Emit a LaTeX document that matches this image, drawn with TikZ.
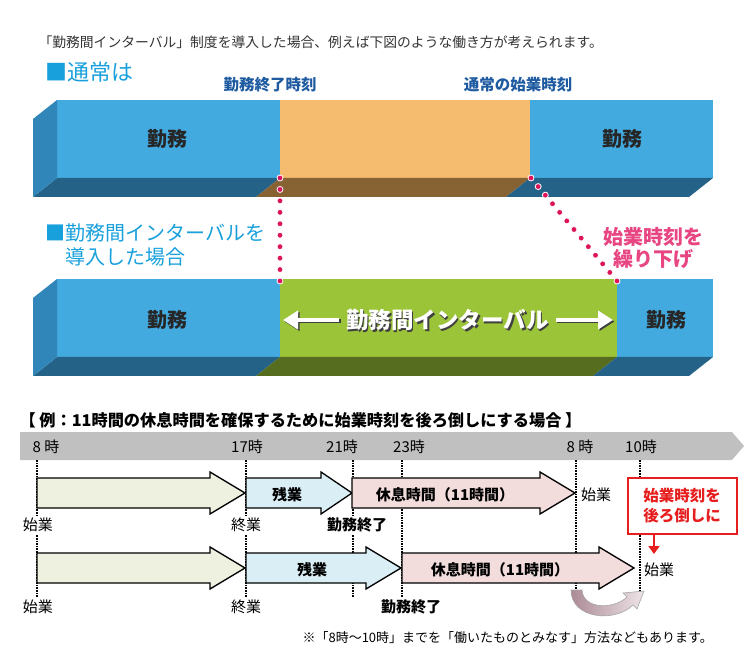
\documentclass[tikz,border=0pt]{standalone}
\usepackage{fontspec}
\setmainfont{Noto Sans CJK JP}
\usetikzlibrary{calc,arrows.meta}

\definecolor{captext}{RGB}{51,51,51}
\definecolor{headblue}{RGB}{24,160,220}
\definecolor{timeblue}{RGB}{30,90,160}
\definecolor{frontblue}{RGB}{67,170,224}
\definecolor{sideblue}{RGB}{48,134,184}
\definecolor{bottomblue}{RGB}{36,99,135}
\definecolor{frontorange}{RGB}{245,187,110}
\definecolor{bottomorange}{RGB}{135,98,50}
\definecolor{frontgreen}{RGB}{155,196,56}
\definecolor{bottomgreen}{RGB}{86,108,30}
\definecolor{dotpink}{RGB}{222,20,90}
\definecolor{textpink}{RGB}{232,70,130}
\definecolor{bandgray}{RGB}{192,192,192}
\definecolor{beige}{RGB}{238,240,224}
\definecolor{lightblue}{RGB}{218,238,246}
\definecolor{pinkfill}{RGB}{242,220,220}
\definecolor{alertred}{RGB}{230,30,30}
\definecolor{curvedark}{RGB}{172,138,150}
\definecolor{curvelight}{RGB}{238,228,232}

\tikzset{
  timelbl/.style={text=timeblue, font=\bfseries\fontsize{15.5}{17}\selectfont},
  barlbl/.style={text=black!85, font=\bfseries\fontsize{20}{22}\selectfont},
  dot/.style={fill=dotpink, draw=white, line width=0.8pt},
  tick/.style={densely dotted, line width=1.6pt},
  barrow/.style={draw=black, line width=1.3pt, line join=miter},
  hourlbl/.style={font=\fontsize{15}{17}\selectfont},
  inlbl/.style={font=\bfseries\fontsize{15}{17}\selectfont},
  undlbl/.style={fill=white, inner sep=2pt, font=\fontsize{15}{17}\selectfont}
}

% x0, head base, tip, centre line
\newcommand{\timearrow}[5]{%
  \draw[barrow, fill=#1] (#2,#5-15) -- (#3,#5-15) -- (#3,#5-21) -- (#4,#5)
    -- (#3,#5+21) -- (#3,#5+15) -- (#2,#5+15) -- cycle;}

\begin{document}
\begin{tikzpicture}[x=1pt,y=-1pt]
  \useasboundingbox (0,0) rectangle (750,660);

  \node[anchor=west, text=captext, font=\fontsize{13.8}{16}\selectfont] (cap) at (35,42)
    {「勤務間インターバル」制度を導入した場合、例えば下図のような働き方が考えられます。};

  % normal case
  \node[anchor=west, text=headblue, font=\fontsize{22}{24}\selectfont] (usual) at (42,72) {■通常は};
  \node[timelbl] (endtime) at (270,85) {勤務終了時刻};
  \node[timelbl] (starttime) at (518,85) {通常の始業時刻};

  \foreach \ya/\xa/\xb/\col in {100/57/280/blue, 100/280/530/orange, 100/530/713/blue,
                                279/57/280/blue, 279/280/617/green, 279/617/713/blue} {
    \fill[fill=front\col] (\xa,\ya) rectangle (\xb,\ya+78);
    \fill[fill=bottom\col] (\xa,\ya+78) -- (\xb,\ya+78) -- (\xb-24,\ya+97) -- (\xa-24,\ya+97) -- cycle;
  }
  \foreach \ya in {100,279}
    \fill[sideblue] (57,\ya) -- (57,\ya+78) -- (33,\ya+97) -- (33,\ya+19) -- cycle;

  \node[barlbl] (work1) at (167,139) {勤務};
  \node[barlbl] (work2) at (622,139) {勤務};
  \node[barlbl] (work3) at (167,320) {勤務};
  \node[barlbl] (work4) at (666,320) {勤務};

  % with interval
  \node[anchor=west, align=left, text=headblue, font=\fontsize{20}{24}\selectfont] (intro) at (42,245)
    {■勤務間インターバルを\\\phantom{■}導入した場合};
  \node[align=center, text=textpink, font=\bfseries\fontsize{20}{22}\selectfont] (delay) at (653,248)
    {始業時刻を\\繰り下げ};

  \coordinate (end1) at (280,178);
  \coordinate (end2) at (280,281);
  \coordinate (start1) at (531,178);
  \coordinate (start2) at (617,281);
  \foreach \i in {0,...,9}
    \fill[dot] ($(end1)!\i/9!(end2)$) circle (3pt);
  \foreach \i in {0,...,12}
    \fill[dot] ($(start1)!\i/12!(start2)$) circle (3pt);

  \node[text=black!75, font=\bfseries\fontsize{22.5}{24}\selectfont, inner sep=0pt] (intervalsh) at (449,321.5) {勤務間インターバル};
  \node[text=white, font=\bfseries\fontsize{22.5}{24}\selectfont, inner sep=0pt] (interval) at (447.5,320) {勤務間インターバル};
  \coordinate (ltip) at (283,320);
  \coordinate (rtip) at (613,320);
  \draw[black!75, line width=4pt, -{Triangle[length=15pt,width=18pt]}] ([shift={(-5.5pt,-1.5pt)}]interval.west) -- ([shift={(1.5pt,-1.5pt)}]ltip);
  \draw[black!75, line width=4pt, -{Triangle[length=15pt,width=18pt]}] ([shift={(8.5pt,-1.5pt)}]interval.east) -- ([shift={(1.5pt,-1.5pt)}]rtip);
  \draw[white, line width=4pt, -{Triangle[length=15pt,width=18pt]}] ([xshift=-7pt]interval.west) -- (ltip);
  \draw[white, line width=4pt, -{Triangle[length=15pt,width=18pt]}] ([xshift=7pt]interval.east) -- (rtip);

  % example timeline
  \node[anchor=west, font=\bfseries\fontsize{16.2}{18}\selectfont] (example) at (16,420)
    {【 例：11時間の休息時間を確保するために始業時刻を後ろ倒しにする場合 】};
  \fill[bandgray] (20,432) -- (732,432) -- (744,446) -- (732,460) -- (20,460) -- cycle;
  \foreach \x/\t/\n in {46/8 時/h8, 247/17時/h17, 342/21時/h21, 409/23時/h23, 580/8 時/h8b, 641/10時/h10}
    \node[hourlbl] (\n) at (\x,447) {\t};

  \foreach \x in {37,246,353,402,576,640}
    \draw[tick] (\x,460) -- (\x,597);

  \timearrow{beige}{37}{210}{245}{493}
  \timearrow{lightblue}{246}{321}{352}{493}
  \timearrow{pinkfill}{352}{540}{575}{493}
  \timearrow{beige}{37}{210}{245}{568}
  \timearrow{lightblue}{246}{366}{401}{568}
  \timearrow{pinkfill}{402}{599}{634}{568}

  \node[inlbl] (over1) at (287,495) {残業};
  \node[inlbl] (rest1) at (445,495) {休息時間（11時間）};
  \node[inlbl] (over2) at (312,570) {残業};
  \node[inlbl] (rest2) at (500,570) {休息時間（11時間）};
  \node[hourlbl] (begin1r) at (596,495) {始業};
  \node[hourlbl] (begin2r) at (659,570) {始業};

  \node[undlbl] (begin1) at (38,525) {始業};
  \node[undlbl] (finish1) at (246,525) {終業};
  \node[undlbl, font=\bfseries\fontsize{15}{17}\selectfont] (workend1) at (357,525) {勤務終了};
  \node[undlbl] (begin2) at (38,607) {始業};
  \node[undlbl] (finish2) at (246,607) {終業};
  \node[undlbl, font=\bfseries\fontsize{15}{17}\selectfont] (workend2) at (411,607) {勤務終了};

  \node[draw=alertred, line width=2pt, fill=white, align=center, minimum width=109pt, minimum height=56pt,
        text=alertred, font=\bfseries\fontsize{15.5}{20}\selectfont] (later) at (682,506) {始業時刻を\\後ろ倒しに};
  \coordinate (laterend) at (654,554);
  \draw[alertred, line width=2.5pt, -{Triangle[length=8pt,width=11pt]}] (later.south -| laterend) -- (laterend);

  \shade[left color=curvedark, right color=curvelight, draw=gray!70, line width=0.6pt]
    (571,590) .. controls (571,619) and (615,623) .. (633,605) -- (637,609) -- (644,591)
    -- (623,593) -- (627,597) .. controls (613,610) and (583,609) .. (582,590) -- cycle;

  \node[anchor=west, font=\fontsize{13}{15}\selectfont] (note) at (299,638)
    {※「8時～10時」までを「働いたものとみなす」方法などもあります。};
\end{tikzpicture}
\end{document}
